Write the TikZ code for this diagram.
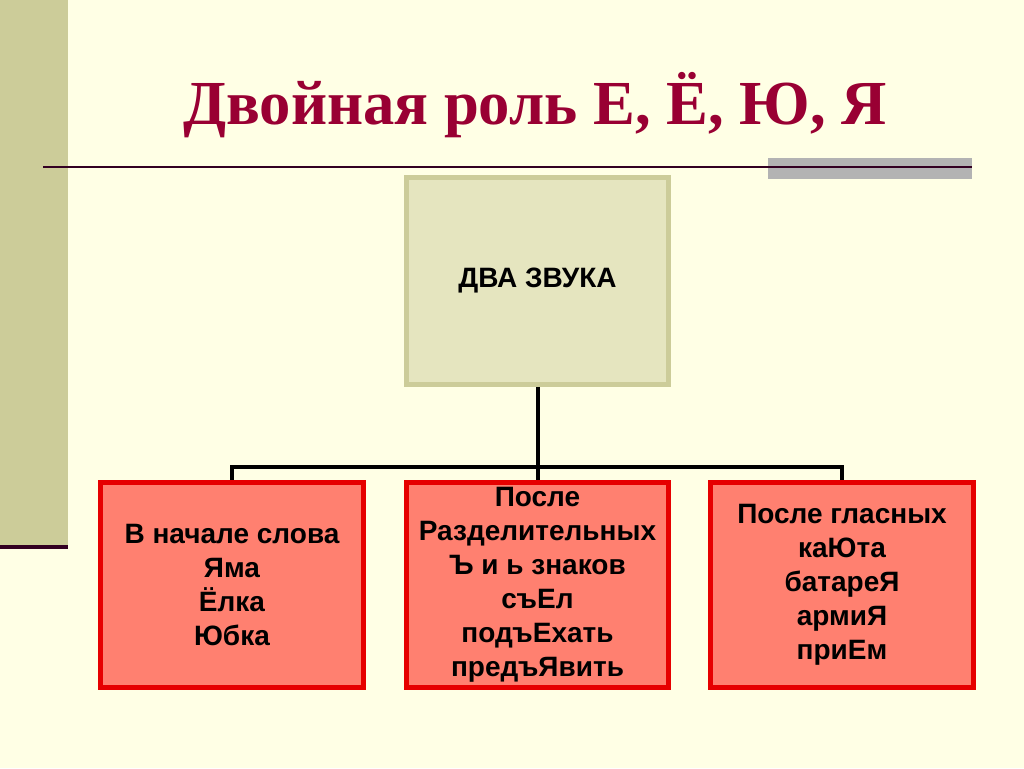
\documentclass[tikz,border=0pt]{standalone}
\usepackage{fontspec}
\setmainfont{Liberation Serif}
\newfontfamily\boxfont{Liberation Sans}
\definecolor{bgcream}{RGB}{255,255,229}
\definecolor{olivebar}{RGB}{204,204,153}
\definecolor{titlered}{RGB}{153,0,51}
\definecolor{darkline}{RGB}{51,0,34}
\definecolor{graybar}{RGB}{179,179,179}
\definecolor{topfill}{RGB}{229,229,191}
\definecolor{salmon}{RGB}{255,128,112}
\definecolor{boxred}{RGB}{230,0,0}
\begin{document}
\begin{tikzpicture}[x=0.75pt,y=-0.75pt,
  topbox/.style={draw=olivebar,fill=topfill,line width=3.75pt,minimum width=197pt,minimum height=155pt,inner sep=0pt,
    font=\boxfont\bfseries\fontsize{21}{25.5}\selectfont,align=center},
  redbox/.style={draw=boxred,fill=salmon,line width=3.75pt,minimum width=197pt,minimum height=154pt,inner sep=0pt,
    font=\boxfont\bfseries\fontsize{21}{25.5}\selectfont,align=center},
  conn/.style={line width=3pt,black}]
\useasboundingbox (0,0) rectangle (1024,768);
\fill[bgcream] (0,0) rectangle (1024,768);
\fill[olivebar] (0,0) rectangle (68,546);
\fill[darkline] (0,545) rectangle (68,549);
\fill[graybar] (768,158) rectangle (972,179);
\draw[darkline,line width=1.5pt] (43,167) -- (972,167);
\node[anchor=base,text=titlered,font=\bfseries\fontsize{47}{52}\selectfont] (title) at (535,124) {Двойная роль Е, Ё, Ю, Я};
\node[topbox] (top) at (537.5,281) {ДВА ЗВУКА};
\node[redbox] (b1) at (232,585) {В начале слова\\Яма\\Ёлка\\Юбка};
\node[redbox] (b2) at (537.5,585) {После\\Разделительных\\Ъ и ь знаков\\съЕл\\подъЕхать\\предъЯвить};
\node[redbox] (b3) at (842,585) {После гласных\\каЮта\\батареЯ\\армиЯ\\приЕм};
\coordinate (j) at (537.5,467);
\draw[conn] (top.south) -- (j);
\draw[conn] (j) -| (b1.north);
\draw[conn] (j) -| (b3.north);
\draw[conn] (j) -- (b2.north);
\end{tikzpicture}
\end{document}
